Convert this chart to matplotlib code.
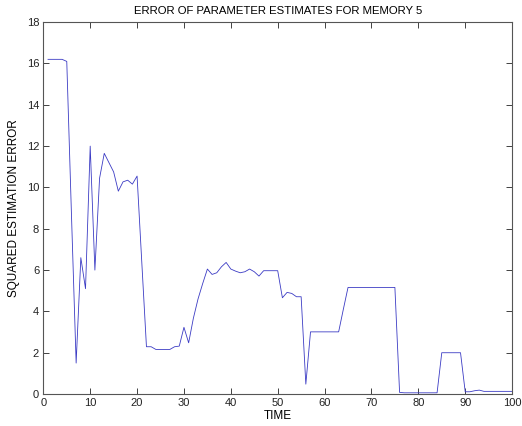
import matplotlib
matplotlib.use("Agg")
import matplotlib.pyplot as plt
import numpy as np

plt.rcParams['font.family'] = ['Liberation Sans', 'DejaVu Sans']

time = list(range(1, 101))
error = [16.2, 16.2, 16.2, 16.2, 16.1, 8.7, 1.5, 6.6, 5.1, 12.0,
         6.0, 10.45, 11.65, 11.2, 10.75, 9.82, 10.27, 10.35, 10.16, 10.55,
         6.4, 2.29, 2.29, 2.16, 2.16, 2.16, 2.16, 2.29, 2.32, 3.23,
         2.48, 3.66, 4.6, 5.35, 6.05, 5.79, 5.87, 6.16, 6.37, 6.05,
         5.95, 5.87, 5.92, 6.05, 5.92, 5.71, 5.97, 5.97, 5.97, 5.97,
         4.66, 4.92, 4.87, 4.71, 4.71, 0.48, 3.01, 3.01, 3.01, 3.01,
         3.01, 3.01, 3.01, 4.1, 5.16, 5.16, 5.16, 5.16, 5.16, 5.16,
         5.16, 5.16, 5.16, 5.16, 5.16, 0.08, 0.06, 0.06, 0.06, 0.06,
         0.06, 0.06, 0.06, 0.06, 2.0, 2.0, 2.0, 2.0, 2.0, 0.11,
         0.11, 0.16, 0.19, 0.13, 0.13, 0.13, 0.13, 0.13, 0.13, 0.13]

xticks = list(range(0, 101, 10))
yticks = list(range(0, 19, 2))

fig = plt.figure(figsize=(5.22, 4.26), dpi=100)
ax = fig.add_axes([0.083, 0.075, 0.898, 0.873])
ax.plot(time, error, color='#3b3bc4', linewidth=0.6)
ax.set_xlim(0, 100)
ax.set_ylim(0, 18)
ax.set_xticks(xticks)
ax.set_yticks(yticks)
ax.tick_params(direction='in', top=True, right=True, length=4, width=0.6,
               labelsize=8, pad=3, colors='#222222')
for s in ax.spines.values():
    s.set_linewidth(0.8)
    s.set_color('#555555')
ax.set_title('ERROR OF PARAMETER ESTIMATES FOR MEMORY 5', fontsize=8.2, pad=6)
ax.set_xlabel('TIME', fontsize=8.5, labelpad=1)
ax.set_ylabel('SQUARED ESTIMATION ERROR', fontsize=8.5, labelpad=5)
fig.savefig('out.png', dpi=100, facecolor='white')
